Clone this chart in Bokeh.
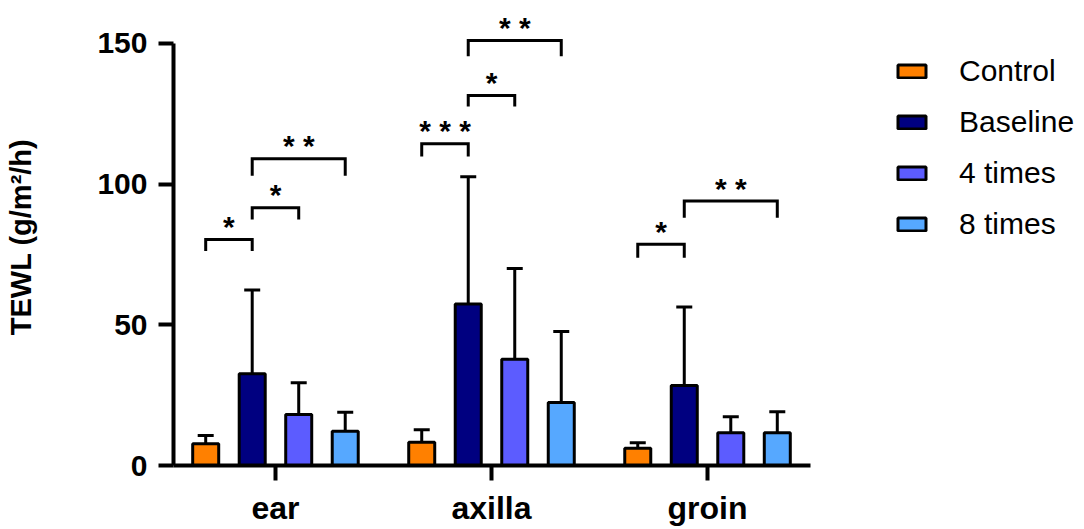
from bokeh.plotting import figure
from bokeh.models import (ColumnDataSource, Range1d, FixedTicker, Legend, LegendItem,
                          Whisker, TeeHead)
from bokeh.core.properties import value
from bokeh.embed import file_html
from bokeh.resources import INLINE

# ---------------- data ----------------
sites = ["ear", "axilla", "groin"]
series = ["Control", "Baseline", "4 times", "8 times"]
colors = ["#FF8000", "#000080", "#5C5CFF", "#56A8FF"]

control_mean = [7.7, 8.3, 6.1]
baseline_mean = [32.6, 57.4, 28.4]
times4_mean = [18.1, 37.8, 11.6]
times8_mean = [12.2, 22.4, 11.6]

control_sd = [3.0, 4.4, 2.0]
baseline_sd = [29.8, 45.2, 27.9]
times4_sd = [11.3, 32.2, 5.7]
times8_sd = [6.7, 25.2, 7.5]

y_ticks = [0, 50, 100, 150]
y_title = "TEWL (g/m²/h)"

# significance brackets: site index, from series, to series, bracket top, leg bottom, label
br_site = [0, 0, 0, 1, 1, 1, 2, 2]
br_from = [0, 1, 1, 0, 1, 1, 0, 1]
br_to = [1, 2, 3, 1, 2, 3, 1, 3]
br_top = [80.3, 91.6, 109.0, 114.3, 131.5, 151.0, 78.6, 94.0]
br_leg = [76.2, 87.4, 103.0, 109.8, 127.6, 145.4, 73.8, 88.0]
br_label = ["*", "*", "* *", "* * *", "*", "* *", "*", "* *"]

means = [control_mean, baseline_mean, times4_mean, times8_mean]
sds = [control_sd, baseline_sd, times4_sd, times8_sd]

# ---------------- layout constants ----------------
slot = 0.2153
offsets = [(-1.5 + k) * slot for k in range(4)]
bar_w = 0.1204
x_start = 1 - 0.472
x_axis_end = 3.477
x_end = 4.708
star_lift = 4.6

FONT = value("Liberation Sans")

p = figure(width=1076, height=529,
           x_range=Range1d(x_start, x_end), y_range=Range1d(0, 162.4),
           output_backend="svg", toolbar_location=None,
           min_border_left=173, min_border_right=0, min_border_top=8, min_border_bottom=64)
p.outline_line_color = None
p.grid.visible = False
p.background_fill_color = "white"

items = []
for k, name in enumerate(series):
    xs = [i + 1 + offsets[k] for i in range(len(sites))]
    src = ColumnDataSource(dict(x=xs, top=means[k],
                                upper=[m + s for m, s in zip(means[k], sds[k])]))
    w = Whisker(source=src, base="x", lower="top", upper="upper", dimension="height",
                line_color="black", line_width=3,
                upper_head=TeeHead(size=16, line_width=3, line_color="black"),
                lower_head=None)
    p.add_layout(w)
    r = p.vbar(x="x", top="top", bottom=0, width=bar_w, source=src,
               fill_color=colors[k], line_color="black", line_width=3)
    items.append(LegendItem(label=name, renderers=[r]))

# brackets
bxs, bys, tx, ty, tt = [], [], [], [], []
for s, a, b, top, leg, lab in zip(br_site, br_from, br_to, br_top, br_leg, br_label):
    x1 = s + 1 + offsets[a]
    x2 = s + 1 + offsets[b]
    bxs.append([x1, x1, x2, x2])
    bys.append([leg, top, top, leg])
    tx.append((x1 + x2) / 2)
    ty.append(top + star_lift)
    tt.append(lab)
p.multi_line(xs=bxs, ys=bys, line_color="black", line_width=3, line_join="miter")
p.text(x=tx, y=ty, text=tt, text_font=FONT, text_font_size="30px", text_font_style="bold",
       text_align="center", text_baseline="alphabetic", text_color="black")

# axes
for ax in (p.xaxis[0], p.yaxis[0]):
    ax.axis_line_width = 4
    ax.axis_line_color = "black"
    ax.major_tick_line_width = 4
    ax.major_tick_line_color = "black"
    ax.major_tick_in = 0
    ax.major_tick_out = 15
    ax.minor_tick_line_color = None
    ax.major_label_text_font = "Liberation Sans"
    ax.major_label_text_font_style = "bold"
    ax.major_label_text_color = "black"

p.xaxis.ticker = FixedTicker(ticks=[i + 1 for i in range(len(sites))])
p.xaxis.major_label_overrides = {i + 1: s for i, s in enumerate(sites)}
p.xaxis.bounds = (x_start, x_axis_end)
p.xaxis.major_label_standoff = 9
p.xaxis.major_label_text_font_size = "32px"

p.yaxis.ticker = FixedTicker(ticks=y_ticks)
p.yaxis.bounds = (0, 150)
p.yaxis.major_label_standoff = 11
p.yaxis.major_label_text_font_size = "30px"
p.yaxis.axis_label = y_title
p.yaxis.axis_label_text_font = "Liberation Sans"
p.yaxis.axis_label_text_font_style = "bold"
p.yaxis.axis_label_text_font_size = "29px"
p.yaxis.axis_label_text_color = "black"
p.yaxis.axis_label_standoff = 57

legend = Legend(items=items, location=(721, 221), glyph_width=35, glyph_height=16,
                label_text_font="Liberation Sans", label_text_font_size="30px",
                label_text_color="black", label_standoff=30, spacing=11, label_height=40,
                padding=0, margin=0, border_line_color=None, background_fill_alpha=0)
p.add_layout(legend)

open("out.html", "w").write(file_html(p, INLINE))
